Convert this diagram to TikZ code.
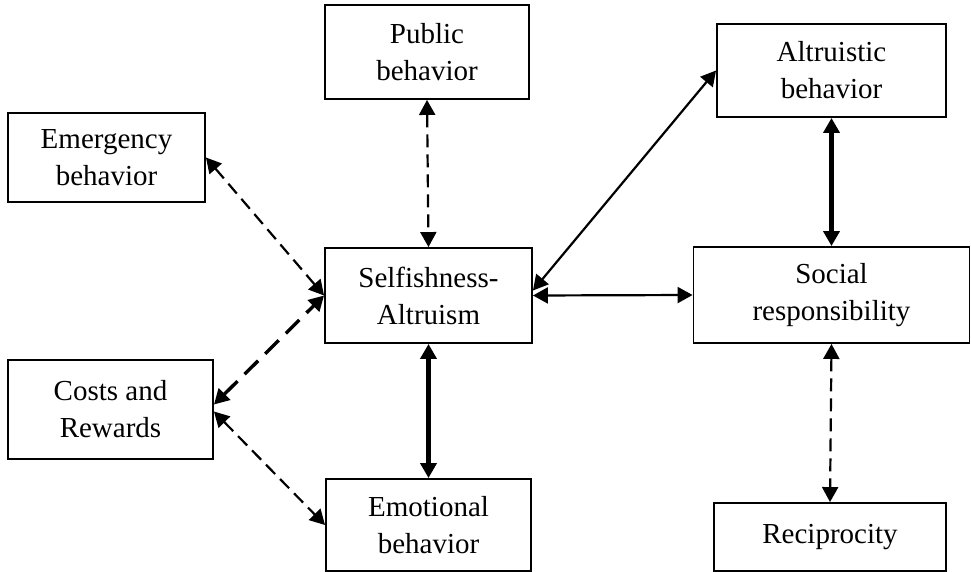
\documentclass[tikz,border=0pt]{standalone}
\usepackage{fontspec}
\setmainfont{Liberation Serif}
\usetikzlibrary{arrows.meta,calc}
\begin{document}
\begin{tikzpicture}[x=1pt,y=-1pt,
  box/.style={draw, line width=1.9pt, inner sep=0pt, align=center,
    font=\fontsize{29}{37}\selectfont},
  tipboth/.style={{Triangle[length=15pt,width=16pt]}-{Triangle[length=15pt,width=16pt]}},
  thinline/.style={tipboth, line width=2.2pt},
  thickline/.style={tipboth, line width=4.2pt},
  dashthin/.style={tipboth, line width=2.2pt, dash pattern=on 13pt off 7pt},
  dashthick/.style={tipboth, line width=3.4pt, dash pattern=on 19pt off 10pt}]
\useasboundingbox (0,0) rectangle (971,572);
\node[box, minimum width=204pt, minimum height=94pt] (pub) at (427,52) {Public\\behavior};
\node[box, minimum width=197pt, minimum height=89pt] (emer) at (106.5,157.5) {Emergency\\behavior};
\node[box, minimum width=229pt, minimum height=93pt] (alt) at (831.5,70.5) {Altruistic\\behavior};
\node[box, minimum width=207pt, minimum height=95pt] (self) at (428.5,295.5) {Selfishness-\\Altruism};
\node[box, minimum width=276pt, minimum height=96pt] (soc) at (831.5,295) {Social\\responsibility};
\node[box, minimum width=205pt, minimum height=99pt] (costs) at (110.5,409.5) {Costs and\\Rewards};
\node[box, minimum width=205pt, minimum height=92pt] (emo) at (428.5,525) {Emotional\\behavior};
\node[box, minimum width=232pt, minimum height=68pt] (rec) at (830,537) {Reciprocity};

\draw[dashthin] (pub.south) -- (self.north);
\draw[dashthin] (emer.east) -- (self.west);
\draw[dashthick] ($(costs.east)+(0,-5)$) -- (self.west);
\draw[dashthin] ($(costs.east)+(0,2)$) -- (emo.west);
\draw[thinline] ($(self.east)+(0,-5)$) -- (alt.west);
\draw[thinline] (self.east) -- (soc.west);
\draw[thickline] (alt.south) -- (soc.north);
\draw[thickline] (self.south) -- (emo.north);
\draw[dashthin] (soc.south) -- (rec.north);
\end{tikzpicture}
\end{document}
